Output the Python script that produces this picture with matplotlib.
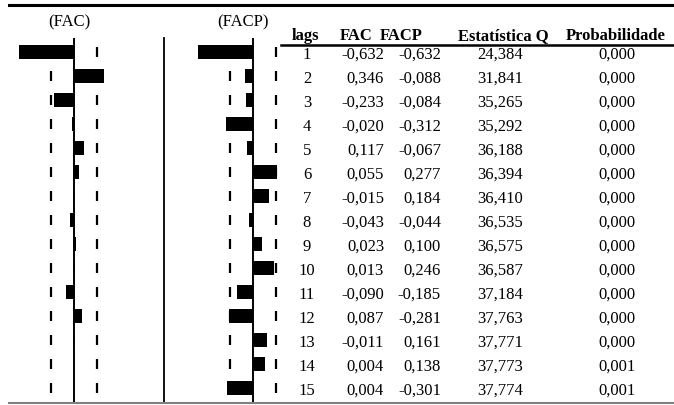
import matplotlib
matplotlib.use("Agg")
import matplotlib.pyplot as plt
from matplotlib.lines import Line2D

# ---- data ----
lags = list(range(1, 16))
fac = [-0.632, 0.346, -0.233, -0.020, 0.117, 0.055, -0.015, -0.043, 0.023, 0.013,
       -0.090, 0.087, -0.011, 0.004, 0.004]
facp = [-0.632, -0.088, -0.084, -0.312, -0.067, 0.277, 0.184, -0.044, 0.100, 0.246,
        -0.185, -0.281, 0.161, 0.138, -0.301]
q_stat = [24.384, 31.841, 35.265, 35.292, 36.188, 36.394, 36.410, 36.535, 36.575, 36.587,
          37.184, 37.763, 37.771, 37.773, 37.774]
prob = [0.000] * 13 + [0.001, 0.001]
bound = 0.26
headers = ["lags", "FAC", "FACP", "Estatística Q", "Probabilidade"]
panel_titles = ["(FAC)", "(FACP)"]

plt.rcParams['font.family'] = ['Liberation Serif', 'DejaVu Serif']
FS = 12

W, H = 674, 405
DPI = 100
fig = plt.figure(figsize=(W / DPI, H / DPI), dpi=DPI)

def rect(x0, x1, y0, y1):
    return [x0 / W, 1 - y1 / H, (x1 - x0) / W, (y1 - y0) / H]

ROW0, ROWH = 52.0, 24.0      # pixel centre of lag 1, row spacing
SCALE = 87.0                 # pixels per correlation unit
def lag_at(py):
    return 1 + (py - ROW0) / ROWH

def fmt(v):
    return f"{v:.3f}".replace(".", ",")

def corr_panel(x0, x1, zero_px, values, title_x, title):
    ax = fig.add_axes(rect(x0, x1, 38, 403))
    ax.set_xlim((x0 - zero_px) / SCALE, (x1 - zero_px) / SCALE)
    ax.set_ylim(lag_at(403), lag_at(38))
    ax.barh(lags, values, height=0.6, color="black")
    ax.axvline(0, color="black", lw=1.4)
    for s in (-bound, bound):
        ax.vlines([s] * len(lags), [l - 0.19 for l in lags], [l + 0.19 for l in lags],
                  color="black", lw=1.6)
    ax.axis("off")
    fig.text(title_x / W, 1 - 22 / H, title, ha="center", va="center", fontsize=FS)
    return ax

corr_panel(9, 164, 74, fac, 69, panel_titles[0])
corr_panel(164, 281, 253, facp, 243, panel_titles[1])

# separator between panels
fig.add_artist(Line2D([164 / W, 164 / W], [1 - 38 / H, 1 - 403 / H], color="black", lw=1.3))
# rules
fig.add_artist(Line2D([9 / W, 1], [1 - 5 / H, 1 - 5 / H], color="black", lw=2.2))
fig.add_artist(Line2D([281 / W, 1], [1 - 45 / H, 1 - 45 / H], color="black", lw=1.8))
fig.add_artist(Line2D([9 / W, 1], [1 - 403 / H, 1 - 403 / H], color="#808080", lw=1.5))

# table
tab = fig.add_axes(rect(281, 674, 0, 405))
tab.set_xlim(281, 674)
tab.set_ylim(lag_at(405), lag_at(0))
tab.axis("off")

hy = lag_at(36)
hx = [305, 356, 401, 503, 616]
for x, h in zip(hx, headers):
    tab.text(x, hy, h, ha="center", va="center", fontsize=FS, fontweight="bold")

dy = 0.12
for i, l in enumerate(lags):
    tab.text(307, l + dy, str(l), ha="center", va="center", fontsize=FS)
    tab.text(384, l + dy, fmt(fac[i]), ha="right", va="center", fontsize=FS)
    tab.text(441, l + dy, fmt(facp[i]), ha="right", va="center", fontsize=FS)
    tab.text(500, l + dy, fmt(q_stat[i]), ha="center", va="center", fontsize=FS)
    tab.text(617, l + dy, fmt(prob[i]), ha="center", va="center", fontsize=FS)

fig.savefig("out.png", dpi=DPI)
